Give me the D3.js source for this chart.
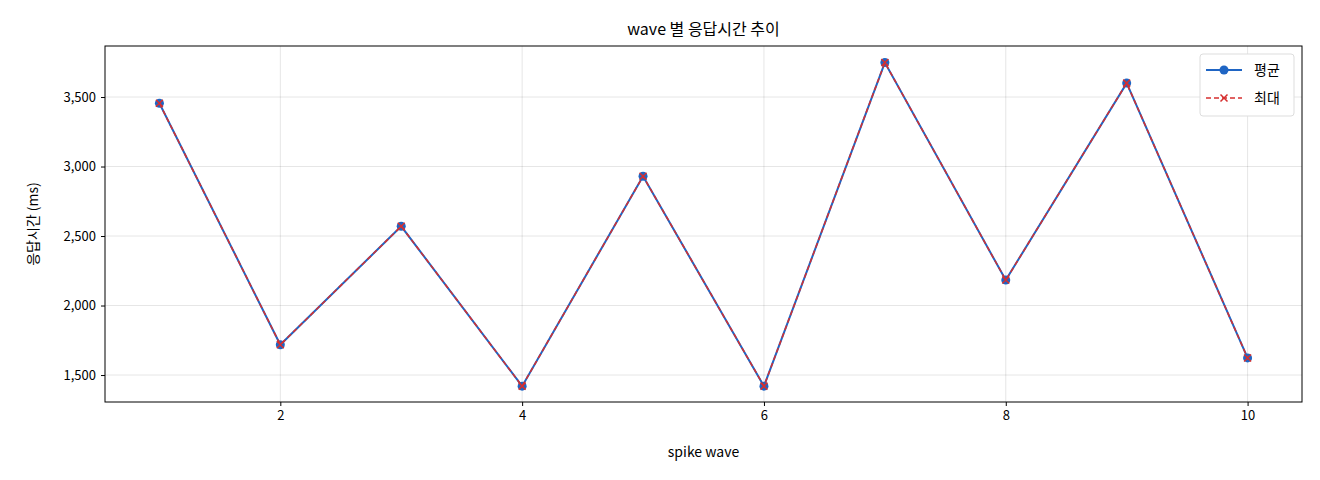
<!DOCTYPE html><html><head><meta charset="utf-8"><script src="https://cdn.jsdelivr.net/npm/d3@7"></script>
<style>body{margin:0;background:#fff}text{font-family:"Noto Sans CJK KR","Noto Sans",sans-serif}</style></head><body><svg id="c" width="1320" height="480"></svg>
<script>
const waves=[1,2,3,4,5,6,7,8,9,10];
const avgVals=[3455,1718,2570,1420,2930,1420,3748,2183,3600,1623];
const maxVals=[3455,1718,2570,1420,2930,1420,3748,2183,3600,1623];
const xTicks=[2,4,6,8,10];
const yTicks=[1500,2000,2500,3000,3500];
const L=105,R=1302,T=46,B=402;
const svg=d3.select("#c");
const x=d3.scaleLinear().domain([0.55,10.45]).range([L,R]);
const y=d3.scaleLinear().domain([1306,3867]).range([B,T]);
const g=svg.append("g");
g.selectAll(".gx").data(xTicks).join("line").attr("x1",d=>x(d)).attr("x2",d=>x(d)).attr("y1",T).attr("y2",B).attr("stroke","#000").attr("stroke-opacity",0.1);
g.selectAll(".gy").data(yTicks).join("line").attr("y1",d=>y(d)).attr("y2",d=>y(d)).attr("x1",L).attr("x2",R).attr("stroke","#000").attr("stroke-opacity",0.1);
const ax=svg.append("g").attr("transform",`translate(0,${B})`).call(d3.axisBottom(x).tickValues(xTicks).tickSize(4).tickPadding(5));
const ay=svg.append("g").attr("transform",`translate(${L},0)`).call(d3.axisLeft(y).tickValues(yTicks).tickSize(4).tickPadding(5));
[ax,ay].forEach(a=>{a.select(".domain").remove();a.selectAll("text").attr("font-size",13).attr("fill","#000").style("font-family","'Noto Sans CJK KR',sans-serif");});
svg.append("rect").attr("x",L).attr("y",T).attr("width",R-L).attr("height",B-T).attr("fill","none").attr("stroke","#000");
const line=d3.line().x((d,i)=>x(waves[i])).y(d=>y(d));
svg.append("path").datum(avgVals).attr("d",line).attr("fill","none").attr("stroke","#1f65c4").attr("stroke-width",2);
svg.selectAll(".pt").data(avgVals).join("circle").attr("cx",(d,i)=>x(waves[i])).attr("cy",d=>y(d)).attr("r",4.5).attr("fill","#1f65c4");
svg.append("path").datum(maxVals).attr("d",line).attr("fill","none").attr("stroke","#d62f2f").attr("stroke-width",1.5).attr("stroke-dasharray","5,3");
const cross=(s,cx,cy,r)=>s.append("path").attr("d",`M${cx-r},${cy-r}L${cx+r},${cy+r}M${cx-r},${cy+r}L${cx+r},${cy-r}`).attr("stroke","#d62f2f").attr("stroke-width",1.5);
maxVals.forEach((d,i)=>cross(svg,x(waves[i]),y(d),3.5));
svg.append("text").attr("x",(L+R)/2).attr("y",35).attr("text-anchor","middle").attr("font-size",16).text("wave 별 응답시간 추이");
svg.append("text").attr("x",(L+R)/2).attr("y",457).attr("text-anchor","middle").attr("font-size",14).text("spike wave");
svg.append("text").attr("transform",`translate(38,${(T+B)/2}) rotate(-90)`).attr("text-anchor","middle").attr("font-size",14).text("응답시간 (ms)");
const lg=svg.append("g");
lg.append("rect").attr("x",1200).attr("y",54).attr("width",94).attr("height",62).attr("rx",3).attr("fill","#fff").attr("stroke","#ddd");
lg.append("line").attr("x1",1206).attr("x2",1242).attr("y1",70).attr("y2",70).attr("stroke","#1f65c4").attr("stroke-width",2);
lg.append("circle").attr("cx",1224).attr("cy",70).attr("r",4.5).attr("fill","#1f65c4");
lg.append("line").attr("x1",1206).attr("x2",1242).attr("y1",98).attr("y2",98).attr("stroke","#d62f2f").attr("stroke-width",1.5).attr("stroke-dasharray","5,3");
cross(lg,1224,98,3.5);
lg.append("text").attr("x",1254).attr("y",75).attr("font-size",14).text("평균");
lg.append("text").attr("x",1254).attr("y",103).attr("font-size",14).text("최대");
</script></body></html>
